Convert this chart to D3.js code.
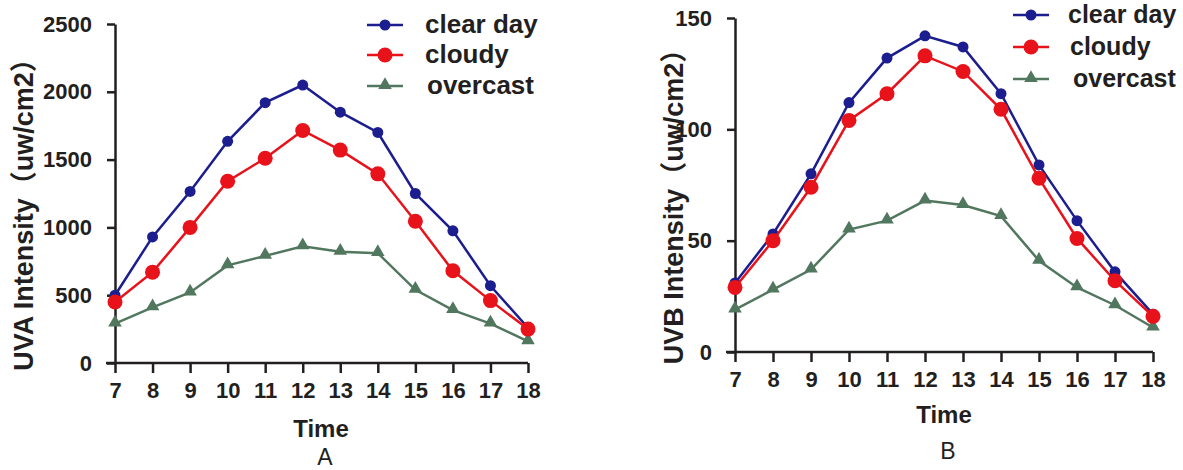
<!DOCTYPE html>
<html>
<head>
<meta charset="utf-8">
<script src="https://cdn.jsdelivr.net/npm/d3@7"></script>
<style>
  body { margin: 0; background: #fff; }
  svg text { font-family: "Liberation Sans", Arial, "Noto Sans CJK SC", sans-serif; }
</style>
</head>
<body>
<svg id="chart" width="1183" height="470"></svg>
<script>
// UV intensity over the day, three weather types
const hours = [7, 8, 9, 10, 11, 12, 13, 14, 15, 16, 17, 18];
const seriesNames = ["clear day", "cloudy", "overcast"];

const uvaClear = [500, 930, 1265, 1635, 1920, 2050, 1850, 1700, 1250, 975, 570, 260];
const uvaCloudy = [450, 670, 1000, 1340, 1510, 1715, 1570, 1395, 1045, 680, 460, 250];
const uvaOvercast = [290, 410, 520, 720, 790, 860, 820, 810, 540, 390, 290, 160];
const uvaTicks = [0, 500, 1000, 1500, 2000, 2500];

const uvbClear = [31, 53, 80, 112, 132, 142, 137, 116, 84, 59, 36, 17];
const uvbCloudy = [29, 50, 74, 104, 116, 133, 126, 109, 78, 51, 32, 16];
const uvbOvercast = [19, 28, 37, 55, 59, 68, 66, 61, 41, 29, 21, 11];
const uvbTicks = [0, 50, 100, 150];

const colors = ["#1c1d8e", "#e8121b", "#52775f"];
const axisColor = "#231f20";

const svg = d3.select("#chart");

function drawPanel(p) {
    const x = d3.scaleLinear().domain([7, 18]).range([p.left, p.right]);
    const y = d3.scaleLinear().domain([0, p.ymax]).range([p.bottom, p.top]);

    const g = svg.append("g");

    // axes
    const xAxis = g.append("g")
        .attr("transform", `translate(0,${p.bottom})`)
        .call(d3.axisBottom(x).tickValues(hours).tickFormat(d3.format("d"))
            .tickSize(10).tickSizeOuter(0).tickPadding(9));
    const yAxis = g.append("g")
        .attr("transform", `translate(${p.left},0)`)
        .call(d3.axisLeft(y).tickValues(p.ticks).tickFormat(d3.format("d"))
            .tickSize(8).tickSizeOuter(0).tickPadding(15));

    [xAxis, yAxis].forEach(a => {
        a.select(".domain").attr("stroke", axisColor).attr("stroke-width", 2.5);
        a.selectAll(".tick line").attr("stroke", axisColor).attr("stroke-width", 2.5);
        a.selectAll(".tick text")
            .attr("fill", axisColor)
            .style("font-size", "22px")
            .style("font-weight", "bold");
    });
    xAxis.select(".domain").attr("d", `M${p.left - 9},0H${p.right}`);

    // axis titles
    g.append("text")
        .attr("x", p.timeX)
        .attr("y", p.timeY)
        .attr("text-anchor", "middle")
        .attr("fill", axisColor)
        .style("font-size", "24px")
        .style("font-weight", "bold")
        .text("Time");

    g.append("text")
        .attr("x", p.timeX + 4)
        .attr("y", p.letterY)
        .attr("text-anchor", "middle")
        .attr("fill", axisColor)
        .style("font-size", "23px")
        .text(p.letter);

    g.append("text")
        .attr("transform", `translate(${p.titleX},${p.titleY}) rotate(-90)`)
        .attr("text-anchor", "middle")
        .attr("fill", axisColor)
        .style("font-size", "27px")
        .style("font-weight", "bold")
        .text(p.title);

    const line = d3.line()
        .x((d, i) => x(hours[i]))
        .y(d => y(d));

    const tri = d3.symbol().type(d3.symbolTriangle).size(80);

    // overcast underneath, then clear day, cloudy on top
    [2, 0, 1].forEach(k => {
        const vals = p.series[k];
        g.append("path")
            .datum(vals)
            .attr("fill", "none")
            .attr("stroke", colors[k])
            .attr("stroke-width", 2.5)
            .attr("d", line);

        if (k === 2) {
            g.selectAll(null)
                .data(vals)
                .enter().append("path")
                .attr("d", tri)
                .attr("transform", (d, i) => `translate(${x(hours[i])},${y(d) - 1})`)
                .attr("fill", colors[k]);
        } else {
            g.selectAll(null)
                .data(vals)
                .enter().append("circle")
                .attr("cx", (d, i) => x(hours[i]))
                .attr("cy", d => y(d))
                .attr("r", k === 0 ? 5.5 : 7.5)
                .attr("fill", colors[k]);
        }
    });

    // legend
    const legend = g.selectAll(".legend")
        .data(seriesNames)
        .enter().append("g")
        .attr("class", "legend")
        .attr("transform", (d, i) => `translate(${p.legX},${p.legY[i]})`);

    legend.append("line")
        .attr("x1", -18).attr("x2", 18)
        .attr("stroke", (d, i) => colors[i])
        .attr("stroke-width", 2.5);

    legend.each(function (d, i) {
        const lg = d3.select(this);
        if (i === 2) {
            lg.append("path").attr("d", tri).attr("transform", "translate(0,-1)").attr("fill", colors[i]);
        } else {
            lg.append("circle").attr("r", i === 0 ? 5.5 : 7.5).attr("fill", colors[i]);
        }
    });

    legend.append("text")
        .attr("x", (d, i) => p.legTextX[i])
        .attr("y", 8)
        .attr("fill", axisColor)
        .style("font-size", p.legFont)
        .style("font-weight", "bold")
        .text(d => d);
}

drawPanel({
    left: 115, right: 528, top: 24, bottom: 363, ymax: 2500, ticks: uvaTicks,
    series: [uvaClear, uvaCloudy, uvaOvercast],
    title: "UVA Intensity（uw/cm2）", titleX: 33, titleY: 208,
    timeX: 321, timeY: 437, letter: "A", letterY: 465,
    legX: 385, legY: [25, 55, 86], legTextX: [40, 40, 42], legFont: "26px"
});

drawPanel({
    left: 735, right: 1153, top: 18, bottom: 352, ymax: 150, ticks: uvbTicks,
    series: [uvbClear, uvbCloudy, uvbOvercast],
    title: "UVB Intensity（uw/cm2）", titleX: 683, titleY: 200,
    timeX: 944, timeY: 423, letter: "B", letterY: 459,
    legX: 1031, legY: [15, 47, 79], legTextX: [37, 39, 42], legFont: "25px"
});
</script>
</body>
</html>
